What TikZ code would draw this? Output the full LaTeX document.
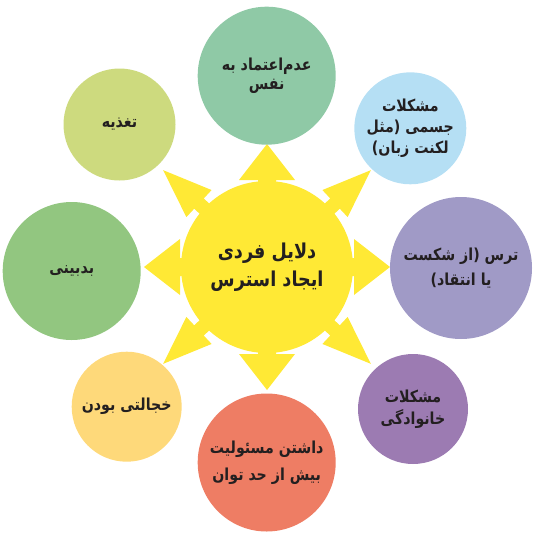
\documentclass[tikz,border=0pt]{standalone}
\usepackage{fontspec}
\newfontfamily\fa[Script=Arabic, FakeStretch=0.86]{DejaVu Sans}
\TeXXeTstate=1
\newcommand\rl[1]{\beginR #1\endR}
\definecolor{sunyellow}{HTML}{FFE935}
\definecolor{cmint}{HTML}{8FC9A6}
\definecolor{cblue}{HTML}{B5DFF4}
\definecolor{clav}{HTML}{A09AC6}
\definecolor{cpurp}{HTML}{9C7BB2}
\definecolor{csalm}{HTML}{EE7D64}
\definecolor{corng}{HTML}{FED97A}
\definecolor{cgrn}{HTML}{92C680}
\definecolor{cyg}{HTML}{CDDA7E}
\definecolor{txt}{HTML}{231F20}
\begin{document}
\begin{tikzpicture}[x=1pt,y=-1pt,
  bub/.style={circle, inner sep=0pt, align=center, text=txt,
    font=\fa\bfseries\fontsize{16.5}{21}\selectfont},
  hub/.style={circle, inner sep=0pt, align=center, text=txt, fill=sunyellow,
    minimum size=172pt, font=\fa\bfseries\fontsize{20.5}{28}\selectfont}]
\useasboundingbox (0,0) rectangle (537,535);
\coordinate (c) at (267,267);
% sun rays
\foreach \a in {0,90,180,270}{
  \fill[sunyellow, shift={(c)}, rotate=\a]
    (70,-9) -- (87,-9) -- (87,-28) -- (123,0) -- (87,28) -- (87,9) -- (70,9) -- cycle;
}
\foreach \a in {43,137,223,317}{
  \fill[sunyellow, shift={(c)}, rotate=\a]
    (70,-7) -- (93,-7) -- (93,-18.5) -- (142,0) -- (93,18.5) -- (93,7) -- (70,7) -- cycle;
}
\node[hub] (hub) at (c) {\rl{دلایل فردی}\\\rl{ایجاد استرس}};
% outer circles
\node[bub, fill=cmint, minimum size=138pt, font=\fa\bfseries\fontsize{16.5}{19}\selectfont] (n1) at (266.7,75.7)
  {\rl{عدم‌اعتماد به}\\\rl{نفس}};
\node[bub, fill=cblue, minimum size=112pt] (n2) at (410.3,128.3)
  {\rl{مشکلات}\\\rl{جسمی (مثل}\\\rl{لکنت زبان)}};
\node[bub, fill=clav, minimum size=142pt, font=\fa\bfseries\fontsize{16.5}{25}\selectfont] (n3) at (461,268)
  {\rl{ترس (از شکست}\\\rl{یا انتقاد)}};
\node[bub, fill=cpurp, minimum size=110pt, font=\fa\bfseries\fontsize{16.5}{22}\selectfont] (n4) at (413,409)
  {\rl{مشکلات}\\\rl{خانوادگی}};
\node[bub, fill=csalm, minimum size=138pt, font=\fa\bfseries\fontsize{16.5}{27}\selectfont] (n5) at (266.7,462.5)
  {\rl{داشتن مسئولیت}\\\rl{بیش از حد توان}};
\node[bub, fill=corng, minimum size=110pt] (n6) at (126.7,406.7)
  {\rl{خجالتی بودن}};
\node[bub, fill=cgrn, minimum size=138pt] (n7) at (71.7,271)
  {\rl{بدبینی}};
\node[bub, fill=cyg, minimum size=112pt] (n8) at (119.5,124.5)
  {\rl{تغذیه}};
\end{tikzpicture}
\end{document}
